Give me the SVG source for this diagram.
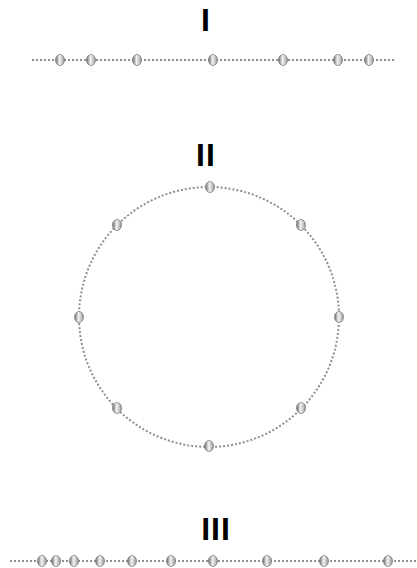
<svg xmlns="http://www.w3.org/2000/svg" width="417" height="568" viewBox="0 0 417 568">
  <defs>
    <linearGradient id="ball" x1="0" y1="0" x2="1" y2="0">
      <stop offset="0" stop-color="#6a6a6a"/>
      <stop offset="0.45" stop-color="#f2f2f2"/>
      <stop offset="0.75" stop-color="#c4c4c4"/>
      <stop offset="1" stop-color="#8c8c8c"/>
    </linearGradient>
    <style>
      .lbl { font-family: "Liberation Sans", Arial, sans-serif; font-weight: bold; font-size: 32px; fill: #000; text-anchor: middle; letter-spacing: 1px; }
      .dotline { fill: none; stroke: #8f8f8f; stroke-width: 2; stroke-dasharray: 2 2; }
      .ball { fill: url(#ball); stroke: #808080; stroke-width: 0.8; }
    </style>
  </defs>
  <rect width="417" height="568" fill="#fff"/>

  <g id="connectors">
    <line class="dotline" x1="32" y1="60" x2="395" y2="60"/>
    <circle class="dotline" cx="209" cy="317" r="130"/>
    <line class="dotline" x1="10" y1="561" x2="417" y2="561"/>
  </g>

  <g id="label-I"><text class="lbl" x="206" y="31">I</text></g>
  <g id="label-II"><text class="lbl" x="206" y="166">II</text></g>
  <g id="label-III"><text class="lbl" x="216" y="540">III</text></g>

  <g id="row-I">
    <ellipse class="ball" cx="60" cy="60" rx="4.5" ry="5.5"/>
    <ellipse class="ball" cx="91" cy="60" rx="4.5" ry="5.5"/>
    <ellipse class="ball" cx="137" cy="60" rx="4.5" ry="5.5"/>
    <ellipse class="ball" cx="213" cy="60" rx="4.5" ry="5.5"/>
    <ellipse class="ball" cx="283" cy="60" rx="4.5" ry="5.5"/>
    <ellipse class="ball" cx="338" cy="60" rx="4.5" ry="5.5"/>
    <ellipse class="ball" cx="369" cy="60" rx="4.5" ry="5.5"/>
  </g>

  <g id="ring-II">
    <ellipse class="ball" cx="210" cy="187" rx="4.5" ry="5.5"/>
    <ellipse class="ball" cx="301" cy="225" rx="4.5" ry="5.5"/>
    <ellipse class="ball" cx="339" cy="317" rx="4.5" ry="5.5"/>
    <ellipse class="ball" cx="301" cy="408" rx="4.5" ry="5.5"/>
    <ellipse class="ball" cx="209" cy="446" rx="4.5" ry="5.5"/>
    <ellipse class="ball" cx="117" cy="408" rx="4.5" ry="5.5"/>
    <ellipse class="ball" cx="79" cy="317" rx="4.5" ry="5.5"/>
    <ellipse class="ball" cx="117" cy="225" rx="4.5" ry="5.5"/>
  </g>

  <g id="row-III">
    <ellipse class="ball" cx="42" cy="561" rx="4.5" ry="5.5"/>
    <ellipse class="ball" cx="56" cy="561" rx="4.5" ry="5.5"/>
    <ellipse class="ball" cx="74" cy="561" rx="4.5" ry="5.5"/>
    <ellipse class="ball" cx="100" cy="561" rx="4.5" ry="5.5"/>
    <ellipse class="ball" cx="132" cy="561" rx="4.5" ry="5.5"/>
    <ellipse class="ball" cx="171" cy="561" rx="4.5" ry="5.5"/>
    <ellipse class="ball" cx="213" cy="561" rx="4.5" ry="5.5"/>
    <ellipse class="ball" cx="267" cy="561" rx="4.5" ry="5.5"/>
    <ellipse class="ball" cx="324" cy="561" rx="4.5" ry="5.5"/>
    <ellipse class="ball" cx="388" cy="561" rx="4.5" ry="5.5"/>
  </g>
</svg>
